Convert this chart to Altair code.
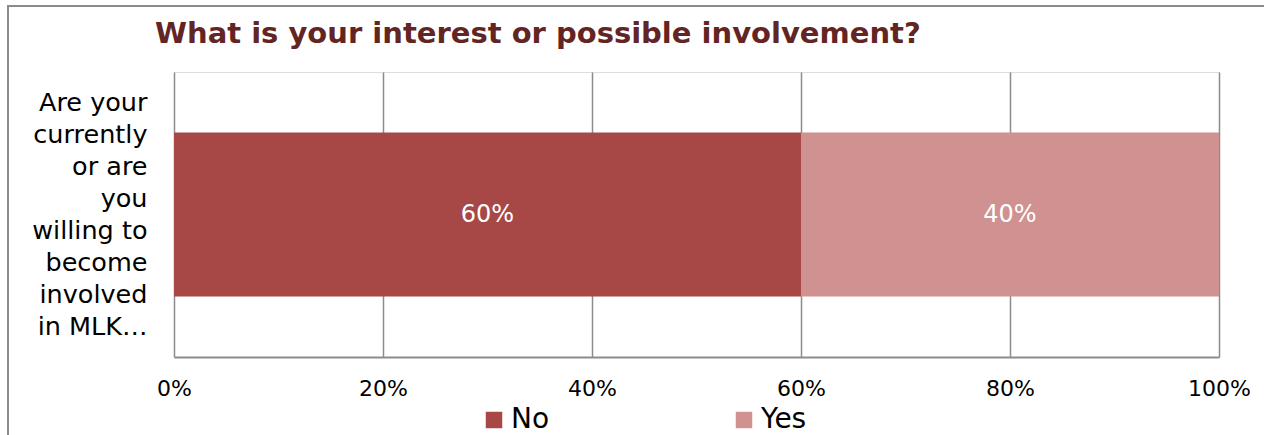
import altair as alt
import pandas as pd

question = "Are your|currently|or are|you|willing to|become|involved|in MLK…"
responses = ["No", "Yes"]
shares = [0.60, 0.40]
colors = ["#A84846", "#D09191"]
ticks = [0, 0.2, 0.4, 0.6, 0.8, 1.0]

df = pd.DataFrame({"q": [question] * 2, "resp": responses, "val": shares,
                   "ord": [0, 1]})

FONT = "DejaVu Sans"

base = alt.Chart(df).transform_stack(
    stack="val", groupby=["q"], as_=["start", "end"], sort=[alt.SortField("ord")]
).transform_calculate(mid="(datum.start + datum.end) / 2")

yenc = alt.Y("q:N", title=None,
             scale=alt.Scale(paddingInner=0, paddingOuter=0.369),
             axis=alt.Axis(domain=False, ticks=False, labelExpr="split(datum.label, '|')",
                           labelFontSize=25.5, labelFont=FONT, labelColor="#000000",
                           labelAlign="right", labelPadding=27, labelLineHeight=32,
                           labelBaseline="middle", labelOffset=-112, labelLimit=300))

bars = base.mark_bar().encode(
    x=alt.X("start:Q", title=None, scale=alt.Scale(domain=[0, 1]),
            axis=alt.Axis(values=ticks, format=".0%", grid=True, gridColor="#8c8c8c",
                          gridWidth=1.5, domainColor="#8c8c8c", domainWidth=2,
                          ticks=False, labelFontSize=22, labelFont=FONT,
                          labelColor="#000000", labelPadding=21, labelFlush=False)),
    x2="end:Q",
    y=yenc,
    color=alt.Color("resp:N", title=None,
                    scale=alt.Scale(domain=responses, range=colors),
                    sort=responses,
                    legend=alt.Legend(orient="none", legendX=306, legendY=334,
                                      direction="horizontal", symbolType="square",
                                      symbolSize=272, symbolStrokeWidth=0,
                                      labelFontSize=28, labelFont=FONT,
                                      labelColor="#000000", columnPadding=180,
                                      labelOffset=3)),
    order=alt.Order("ord:Q"),
)

labels = base.mark_text(color="white", fontSize=24, font=FONT).encode(
    x="mid:Q",
    y=alt.Y("q:N"),
    text=alt.Text("val:Q", format=".0%"),
)

border = alt.Chart(df).mark_rect(fill=None, stroke="#8c8c8c", strokeWidth=2, clip=False).encode(
    x=alt.value(-166), x2=alt.value(1300), y=alt.value(-66), y2=alt.value(500)
)

chart = alt.layer(border, bars, labels).properties(
    width=1045, height=285,
    title=alt.TitleParams("What is your interest or possible involvement?",
                          anchor="start", dx=148, offset=-44, fontSize=29,
                          font=FONT, fontWeight="bold", color="#632523"),
    autosize=alt.AutoSizeParams(type="none"),
    padding={"left": 174, "top": 72, "right": 45, "bottom": 78},
).configure_view(stroke="#8c8c8c", strokeWidth=1.5).configure(background="white")

chart.save("out.html", embed_options={"renderer": "svg", "actions": False})
